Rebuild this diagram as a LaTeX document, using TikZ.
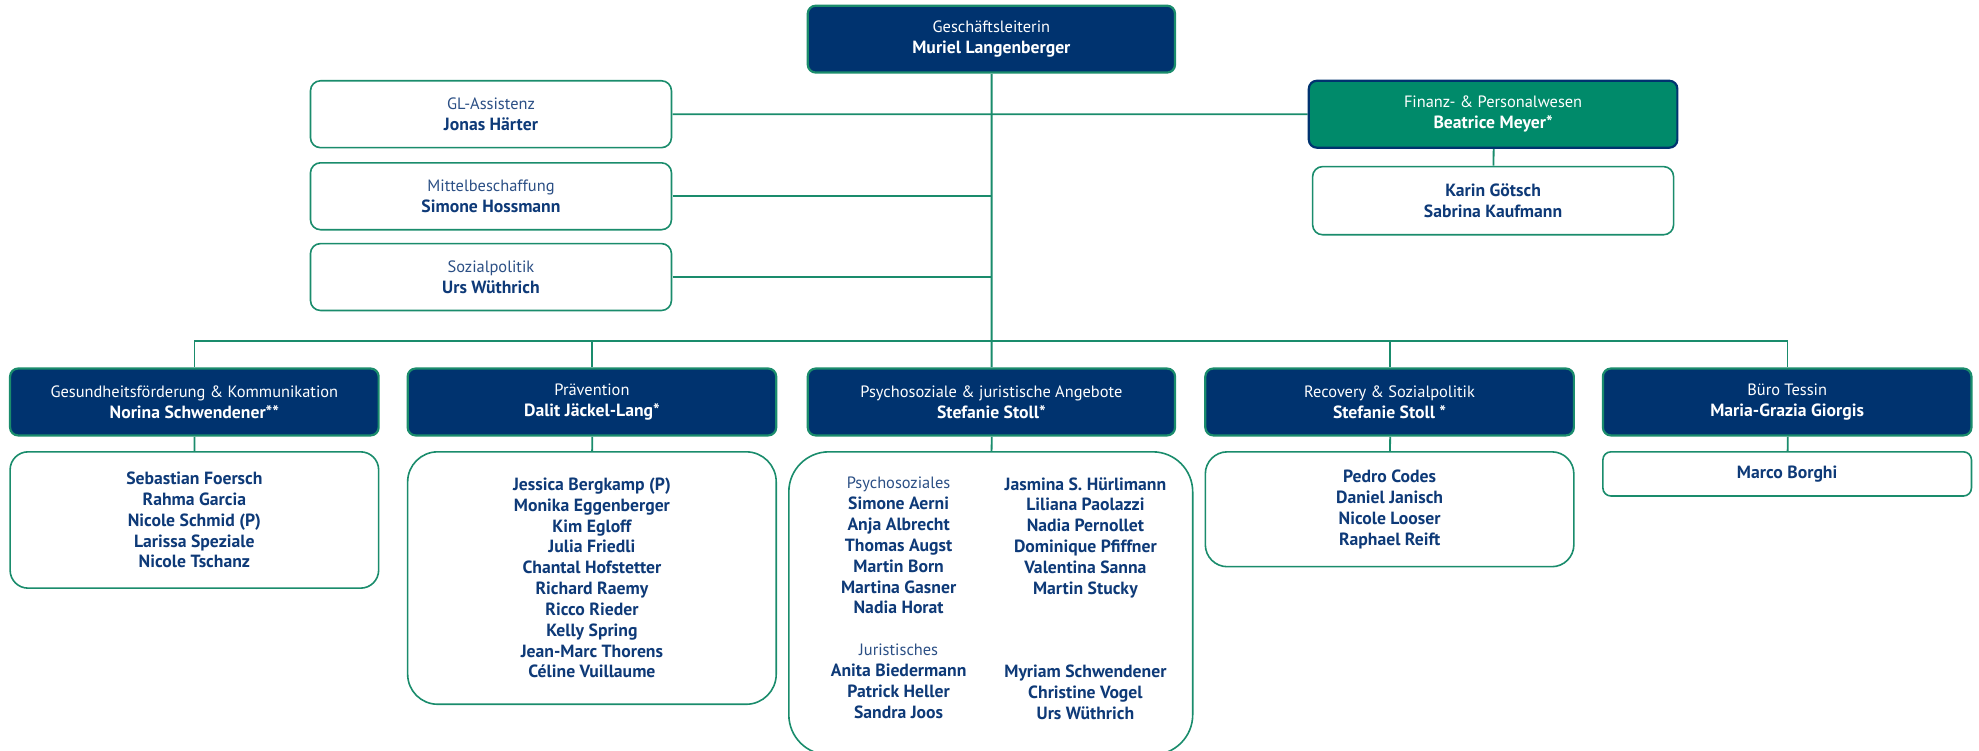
\documentclass[tikz,border=0pt]{standalone}
\usepackage{fontspec}
\setmainfont{PT Sans}
\definecolor{navy}{HTML}{00336F}
\definecolor{grn}{HTML}{1A8C6C}
\definecolor{finfill}{HTML}{008A6A}
\definecolor{txt}{HTML}{0E3A78}
\definecolor{tlc}{HTML}{2B4F85}
\pgfdeclarelayer{bg}
\pgfsetlayers{bg,main}
\newcommand{\ttl}[1]{{\color{tlc}#1}}
\newcommand{\nm}[1]{{\fontsize{14}{16.5}\selectfont\bfseries #1}}
\begin{document}
\begin{tikzpicture}[x=1pt,y=-1pt,scale=1.2621,transform shape,
  fnt/.style={font=\fontsize{13}{16.5}\selectfont},
  headbox/.style={fnt, draw=grn, line width=2.2pt, fill=navy, text=white, rounded corners=8pt,
    minimum width=291pt, minimum height=53pt, align=center, inner sep=0pt},
  finbox/.style={headbox, fill=finfill, draw=navy},
  whitebox/.style={fnt, draw=grn, line width=1.6pt, fill=white, text=txt, align=center,
    inner sep=0pt, minimum width=286pt},
  conn/.style={draw=grn, line width=1.8pt},
  coltext/.style={fnt, text=txt, align=center, anchor=north, inner sep=0pt}]
\useasboundingbox (0,0) rectangle (1568,595);

% top level
\node[headbox] (top) at (785.5,31) {Geschäftsleiterin\\\nm{Muriel Langenberger}};
\node[whitebox, minimum height=53pt, rounded corners=10pt] (gl) at (389,90.5) {\ttl{GL-Assistenz}\\\nm{Jonas Härter}};
\node[whitebox, minimum height=53pt, rounded corners=10pt] (mb) at (389,155.5) {\ttl{Mittelbeschaffung}\\\nm{Simone Hossmann}};
\node[whitebox, minimum height=53pt, rounded corners=10pt] (sp) at (389,219.5) {\ttl{Sozialpolitik}\\\nm{Urs Wüthrich}};
\node[finbox, minimum width=292pt] (fin) at (1183,90.5) {Finanz- \& Personalwesen\\\nm{Beatrice Meyer*}};
\node[whitebox, minimum height=54pt, rounded corners=10pt] (kar) at (1183,159) {\nm{Karin Götsch}\\\nm{Sabrina Kaufmann}};

% departments
\node[headbox, minimum width=292pt] (d1) at (154,318.5) {Gesundheitsförderung \& Kommunikation\\\nm{Norina Schwendener**}};
\node[headbox, minimum width=292pt] (d2) at (469,318.5) {Prävention\\\nm{Dalit Jäckel-Lang*}};
\node[headbox, minimum width=291pt] (d3) at (785.5,318.5) {Psychosoziale \& juristische Angebote\\\nm{Stefanie Stoll*}};
\node[headbox, minimum width=292pt] (d4) at (1101,318.5) {Recovery \& Sozialpolitik\\\nm{Stefanie Stoll *}};
\node[headbox, minimum width=292pt] (d5) at (1416,318.5) {Büro Tessin\\\nm{Maria-Grazia Giorgis}};

% teams
\node[whitebox, minimum width=292pt, minimum height=108pt, rounded corners=18pt] (s1) at (154,412)
  {\nm{Sebastian Foersch}\\\nm{Rahma Garcia}\\\nm{Nicole Schmid (P)}\\\nm{Larissa Speziale}\\\nm{Nicole Tschanz}};
\node[whitebox, minimum width=292pt, minimum height=200pt, rounded corners=30pt] (s2) at (469,458)
  {\nm{Jessica Bergkamp (P)}\\\nm{Monika Eggenberger}\\\nm{Kim Egloff}\\\nm{Julia Friedli}\\\nm{Chantal Hofstetter}\\\nm{Richard Raemy}\\\nm{Ricco Rieder}\\\nm{Kelly Spring}\\\nm{Jean-Marc Thorens}\\\nm{Céline Vuillaume}};
\node[whitebox, minimum width=320pt, minimum height=240pt, rounded corners=40pt] (s3) at (785,478) {};
\node[coltext] (s3l) at (712,378)
  {\ttl{Psychosoziales}\\\nm{Simone Aerni}\\\nm{Anja Albrecht}\\\nm{Thomas Augst}\\\nm{Martin Born}\\\nm{Martina Gasner}\\\nm{Nadia Horat}\\~\\\ttl{Juristisches}\\\nm{Anita Biedermann}\\\nm{Patrick Heller}\\\nm{Sandra Joos}};
\node[coltext] (s3r) at (860,378)
  {\nm{Jasmina S. Hürlimann}\\\nm{Liliana Paolazzi}\\\nm{Nadia Pernollet}\\\nm{Dominique Pfiffner}\\\nm{Valentina Sanna}\\\nm{Martin Stucky}\\~\\~\\~\\\nm{Myriam Schwendener}\\\nm{Christine Vogel}\\\nm{Urs Wüthrich}};
\node[whitebox, minimum width=292pt, minimum height=91pt, rounded corners=22pt] (s4) at (1101,403.5)
  {\nm{Pedro Codes}\\\nm{Daniel Janisch}\\\nm{Nicole Looser}\\\nm{Raphael Reift}};
\node[whitebox, minimum width=292pt, minimum height=35pt, rounded corners=8pt] (s5) at (1416,375.5)
  {\nm{Marco Borghi}};

% connectors
\coordinate (bus) at (785.5,270);
\begin{pgfonlayer}{bg}
\draw[conn] (top) -- (d3);
\draw[conn] (gl) -- (fin);
\draw[conn] (mb.east) -- (mb.east -| top.south);
\draw[conn] (sp.east) -- (sp.east -| top.south);
\draw[conn] (fin) -- (kar);
\draw[conn] (d1.north) |- (bus) -| (d5.north);
\draw[conn] (d2.north) -- (d2.north |- bus);
\draw[conn] (d4.north) -- (d4.north |- bus);
\draw[conn] (d1) -- (s1);
\draw[conn] (d2) -- (s2);
\draw[conn] (d3) -- (s3);
\draw[conn] (d4) -- (s4);
\draw[conn] (d5) -- (s5);
\end{pgfonlayer}
\end{tikzpicture}
\end{document}
